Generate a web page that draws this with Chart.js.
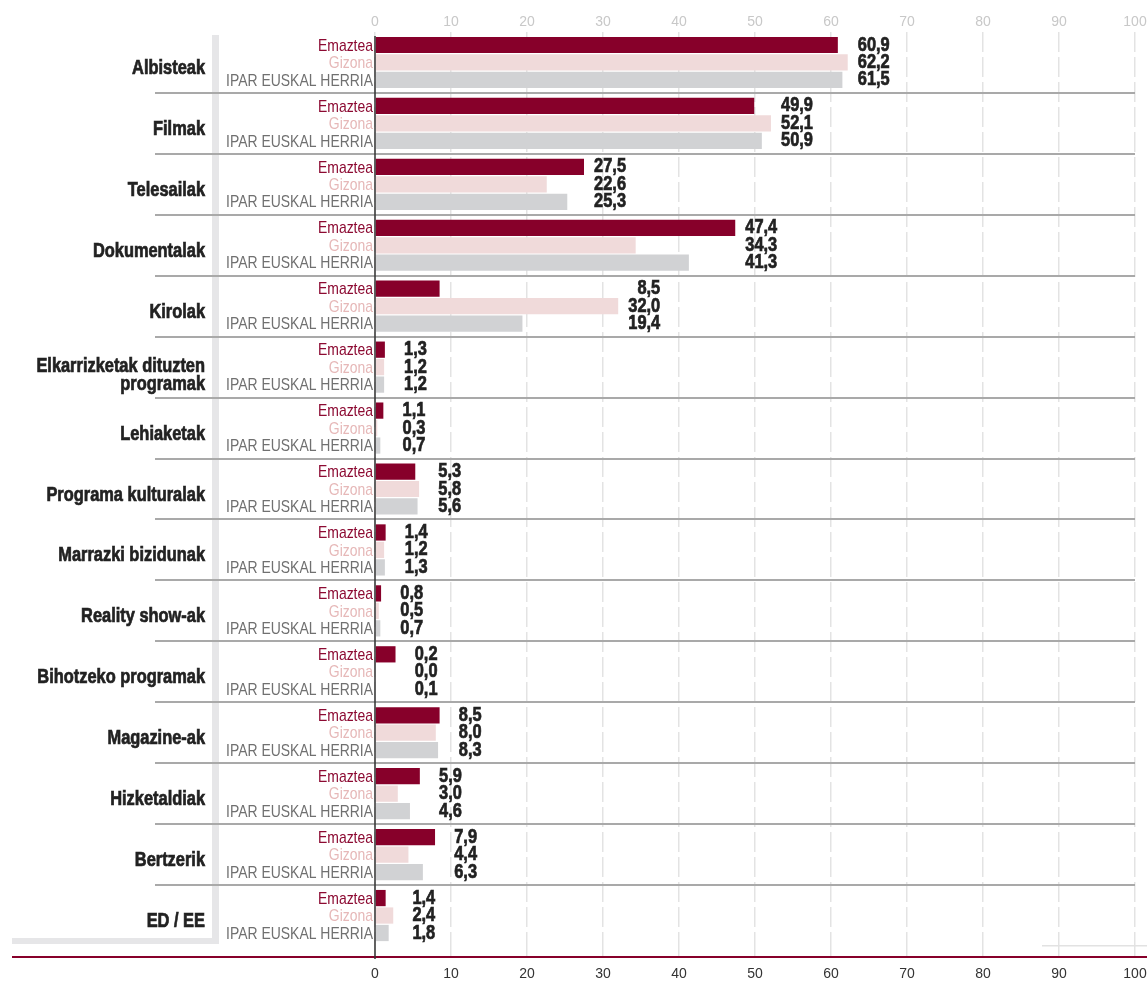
<!DOCTYPE html>
<html>
<head>
<meta charset="utf-8">
<script src="https://cdn.jsdelivr.net/npm/chart.js@4.4.1/dist/chart.umd.min.js"></script>
<style>
  html, body { margin: 0; padding: 0; background: #fff; overflow: hidden; }
  #wrap { width: 1147px; height: 983px; position: relative; }
</style>
</head>
<body>
<div id="wrap"><canvas id="tvChart"></canvas></div>
<script>
// datuak
const categories = ['Albisteak', 'Filmak', 'Telesailak', 'Dokumentalak', 'Kirolak',
  ['Elkarrizketak dituzten', 'programak'], 'Lehiaketak', 'Programa kulturalak',
  'Marrazki bizidunak', 'Reality show-ak', 'Bihotzeko programak', 'Magazine-ak',
  'Hizketaldiak', 'Bertzerik', 'ED / EE'];
const seriesNames = ['Emaztea', 'Gizona', 'IPAR EUSKAL HERRIA'];

// barren luzerak (irudian ikusten direnak)
const emaztea = [60.9, 49.9, 27.5, 47.4, 8.5, 1.3, 1.1, 5.3, 1.4, 0.8, 2.7, 8.5, 5.9, 7.9, 1.4];
const gizona  = [62.2, 52.1, 22.6, 34.3, 32.0, 1.2, 0.3, 5.8, 1.2, 0.5, 0.0, 8.0, 3.0, 4.4, 2.4];
const iparEH  = [61.5, 50.9, 25.3, 41.3, 19.4, 1.2, 0.7, 5.6, 1.3, 0.7, 0.1, 8.3, 4.6, 6.3, 1.8];

// barren ondoko testuak
const emazteaLabels = ['60,9', '49,9', '27,5', '47,4', '8,5', '1,3', '1,1', '5,3', '1,4', '0,8', '0,2', '8,5', '5,9', '7,9', '1,4'];
const gizonaLabels  = ['62,2', '52,1', '22,6', '34,3', '32,0', '1,2', '0,3', '5,8', '1,2', '0,5', '0,0', '8,0', '3,0', '4,4', '2,4'];
const iparEHLabels  = ['61,5', '50,9', '25,3', '41,3', '19,4', '1,2', '0,7', '5,6', '1,3', '0,7', '0,1', '8,3', '4,6', '6,3', '1,8'];

const xMin = 0, xMax = 100, xStep = 10;

const barColors  = ['#87002a', '#f0dada', '#d1d2d4'];
const nameColors = ['#8c0a32', '#e6b8b8', '#707070'];
const valueLabels = [emazteaLabels, gizonaLabels, iparEHLabels];

const FONT = '"Liberation Sans", Arial, sans-serif';
const NARROW_X = 0.82; // Arial Narrow itxura

// testu estua marraztu
function narrowText(ctx, text, x, y, heavy) {
  ctx.save();
  ctx.translate(x, y);
  ctx.scale(NARROW_X, 1);
  ctx.fillText(text, 0, 0);
  if (heavy) {
    ctx.strokeStyle = ctx.fillStyle;
    ctx.lineWidth = 0.7;
    ctx.strokeText(text, 0, 0);
  }
  ctx.restore();
}

// apaingarriak eta testuak
const decorPlugin = {
  id: 'decor',
  beforeDraw(chart) {
    const ctx = chart.ctx;
    const area = chart.chartArea;
    ctx.save();
    ctx.fillStyle = '#e6e6e8';
    ctx.fillRect(212, area.top + 3, 7, area.bottom - area.top - 5);
    ctx.fillRect(12, 938, 207, 6);
    ctx.restore();
  },
  afterDraw(chart) {
    const ctx = chart.ctx;
    const area = chart.chartArea;
    const x = chart.scales.x;
    const y = chart.scales.y;
    const x0 = x.getPixelForValue(0);
    ctx.save();

    // lerro bereizleak
    ctx.strokeStyle = '#a9a9a9';
    ctx.lineWidth = 2;
    for (let i = 0; i < categories.length - 1; i++) {
      const yy = Math.round((y.getPixelForValue(i) + y.getPixelForValue(i + 1)) / 2);
      ctx.beginPath();
      ctx.moveTo(155, yy);
      ctx.lineTo(x.getPixelForValue(xMax), yy);
      ctx.stroke();
    }

    // behe marra gorria
    ctx.fillStyle = '#87002a';
    ctx.fillRect(12, 956, 1135, 2);
    ctx.fillStyle = '#e2e2e2';
    ctx.fillRect(1042, 945, 105, 1.5);

    // 0 ardatza
    ctx.strokeStyle = '#333';
    ctx.lineWidth = 1.5;
    ctx.beginPath();
    ctx.moveTo(x0, area.top + 4);
    ctx.lineTo(x0, 959);
    ctx.stroke();

    // kategorien izenak
    ctx.fillStyle = '#222';
    ctx.font = 'bold 20px ' + FONT;
    ctx.textAlign = 'right';
    ctx.textBaseline = 'middle';
    categories.forEach((c, i) => {
      const cy = y.getPixelForValue(i);
      if (Array.isArray(c)) {
        narrowText(ctx, c[0], 205, cy - 1, true);
        narrowText(ctx, c[1], 205, cy + 17, true);
      } else {
        narrowText(ctx, c, 205, cy + 6, true);
      }
    });

    // serieen izenak eta balioak
    const metas = [0, 1, 2].map(d => chart.getDatasetMeta(d));
    categories.forEach((c, i) => {
      let maxEnd = x0;
      metas.forEach(m => { maxEnd = Math.max(maxEnd, m.data[i].x); });
      const right = maxEnd + 42;
      metas.forEach((m, d) => {
        const bar = m.data[i];
        ctx.textAlign = 'right';
        ctx.font = '17px ' + FONT;
        ctx.fillStyle = nameColors[d];
        narrowText(ctx, seriesNames[d], x0 - 2, bar.y + 1, false);
        ctx.font = 'bold 20px ' + FONT;
        ctx.fillStyle = '#222';
        narrowText(ctx, valueLabels[d][i], right, bar.y, true);
      });
    });
    ctx.restore();
  }
};

// ardatzaren eskuineko tartea finkatu
function fixPadding(s) {
  s.paddingLeft = 0;
  s.paddingRight = 12;
}

function initChart() {
  const ctx = document.getElementById('tvChart').getContext('2d');
  new Chart(ctx, {
    type: 'bar',
    data: {
      labels: categories,
      datasets: [
        { label: seriesNames[0], data: emaztea, backgroundColor: barColors[0] },
        { label: seriesNames[1], data: gizona, backgroundColor: barColors[1] },
        { label: seriesNames[2], data: iparEH, backgroundColor: barColors[2] }
      ]
    },
    options: {
      indexAxis: 'y',
      responsive: true,
      maintainAspectRatio: false,
      animation: false,
      datasets: {
        bar: { categoryPercentage: 0.86, barPercentage: 0.93, borderWidth: 0 }
      },
      layout: { padding: { left: 375, right: 0, top: 0, bottom: 0 } },
      plugins: {
        legend: { display: false },
        tooltip: { enabled: false }
      },
      scales: {
        y: { display: false },
        x: {
          position: 'bottom',
          min: xMin, max: xMax,
          z: 1,
          ticks: { stepSize: xStep, color: '#333', font: { family: FONT, size: 14 }, padding: 9, maxRotation: 0 },
          grid: { color: '#e3e3e3', lineWidth: 1.5, drawTicks: true, tickLength: 11, tickColor: '#e3e3e3', tickBorderDash: [20, 5] },
          border: { display: false, dash: [20, 5] },
          afterFit(s) { s.height = 37; fixPadding(s); }
        },
        x2: {
          position: 'top',
          axis: 'x',
          min: xMin, max: xMax,
          ticks: { stepSize: xStep, color: '#c8c8c8', font: { family: FONT, size: 14 }, padding: 1, maxRotation: 0 },
          grid: { display: false, drawTicks: false, tickLength: 0 },
          border: { display: false },
          afterFit(s) { s.height = 32; fixPadding(s); }
        }
      }
    },
    plugins: [decorPlugin]
  });
}

document.addEventListener('DOMContentLoaded', () => {
  initChart();
});
</script>
</body>
</html>
